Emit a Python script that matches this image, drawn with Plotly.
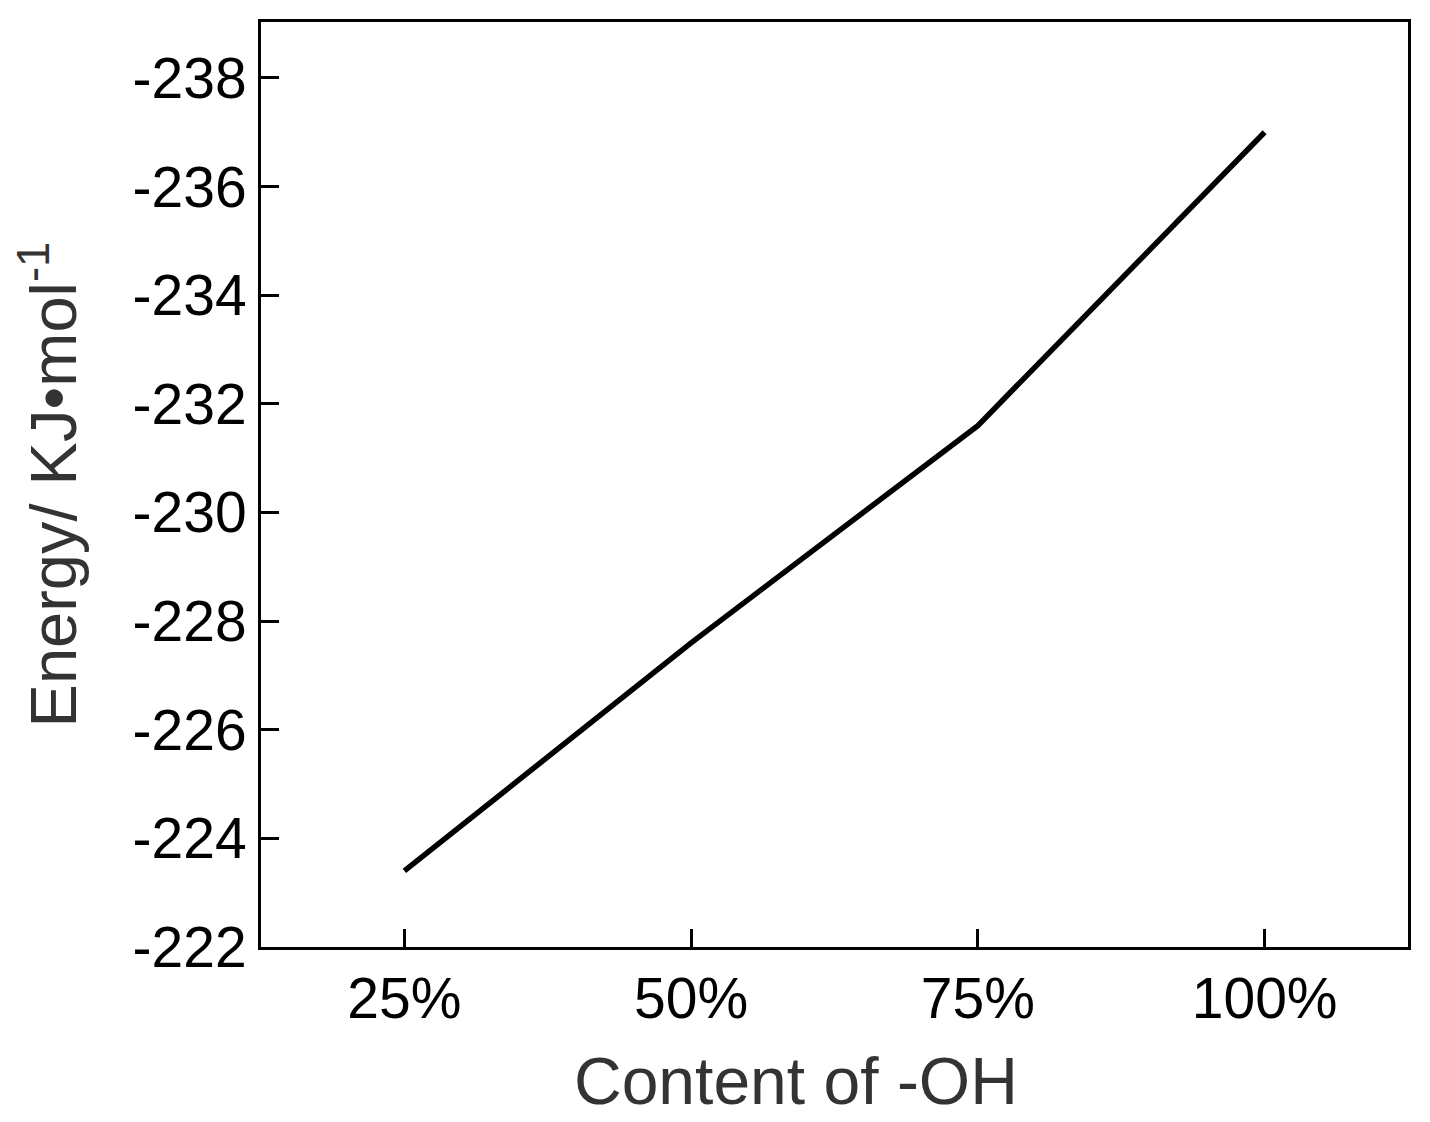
import plotly.graph_objects as go

categories = ["25%", "50%", "75%", "100%"]
energy = [-223.4, -227.6, -231.6, -237.0]
y_ticks = [-238, -236, -234, -232, -230, -228, -226, -224, -222]

fig = go.Figure()
fig.add_trace(go.Scatter(x=categories, y=energy, mode="lines",
                         line=dict(color="black", width=5.5), showlegend=False))

fig.update_layout(
    width=1430, height=1122,
    margin=dict(l=253, r=30, t=14, b=183),
    paper_bgcolor="white", plot_bgcolor="white",
    font=dict(family="Liberation Sans, Arial, sans-serif", color="black"),
)
fig.add_annotation(
    text="Content of -OH", xref="paper", yref="paper",
    x=0.466, y=-0.103, xanchor="center", yanchor="top", showarrow=False,
    font=dict(size=66, color="#333333"),
)
fig.update_xaxes(
    type="category", range=[-0.5, 3.5], automargin=False,
    showline=True, linecolor="black", linewidth=3, mirror=True,
    ticks="inside", ticklen=18, tickwidth=3, tickcolor="black",
    tickfont=dict(size=57), ticklabelstandoff=0,
    showgrid=False, zeroline=False,
)
fig.update_yaxes(
    range=[-222, -239.03], tickvals=y_ticks, ticktext=[str(v) for v in y_ticks],
    automargin=False,
    showline=True, linecolor="black", linewidth=3, mirror=True,
    ticks="inside", ticklen=18, tickwidth=3, tickcolor="black",
    tickfont=dict(size=57), ticklabelstandoff=0,
    showgrid=False, zeroline=False,
    title=dict(text="Energy/ KJ•mol<sup>-1</sup>", font=dict(size=65, color="#333333"), standoff=40),
)
fig.write_html("out.html")
